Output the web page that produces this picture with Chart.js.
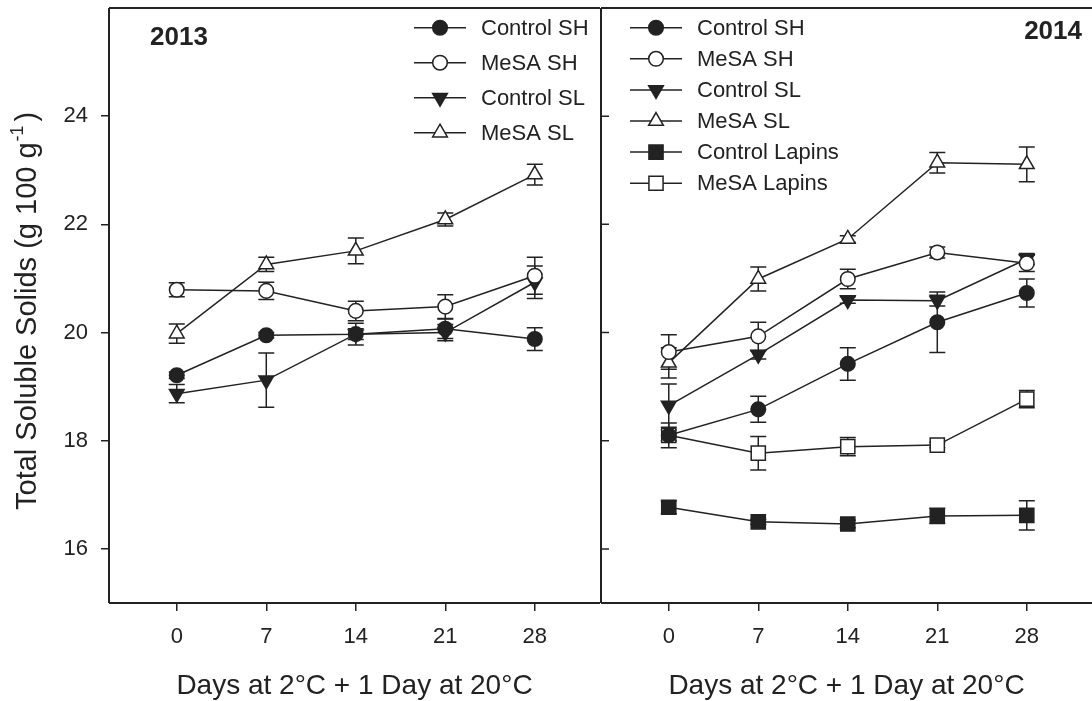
<!DOCTYPE html>
<html>
<head>
<meta charset="utf-8">
<script src="https://cdn.jsdelivr.net/npm/chart.js@4.4.1/dist/chart.umd.min.js"></script>
<style>
  body { margin: 0; background: #fff; overflow: hidden; }
  #wrap { position: relative; width: 1092px; height: 701px; }
  #left-box { position: absolute; left: 0; top: 0; width: 600px; height: 701px; }
  #right-box { position: absolute; left: 600px; top: 0; width: 492px; height: 701px; }
</style>
</head>
<body>
<div id="wrap">
  <div id="left-box"><canvas id="chart2013" width="600" height="701"></canvas></div>
  <div id="right-box"><canvas id="chart2014" width="492" height="701"></canvas></div>
</div>
<script>
const FONT = "'Liberation Sans', Arial, sans-serif";
const INK = '#222';

// axes
const days = [0, 7, 14, 21, 28];
const xTicks = [0, 7, 14, 21, 28];
const yTicks = [16, 18, 20, 22, 24];

// 2013 season (mean, +/- error)
const ctrlSH2013 = [19.21, 19.95, 19.97, 20.07, 19.88];
const ctrlSH2013Err = [0.06, 0.05, 0.2, 0.18, 0.21];
const mesaSH2013 = [20.79, 20.77, 20.40, 20.48, 21.05];
const mesaSH2013Err = [0.13, 0.16, 0.18, 0.22, 0.34];
const ctrlSL2013 = [18.87, 19.12, 19.97, 20.0, 20.93];
const ctrlSL2013Err = [0.17, 0.5, 0.1, 0.15, 0.3];
const mesaSL2013 = [19.98, 21.26, 21.51, 22.09, 22.92];
const mesaSL2013Err = [0.18, 0.13, 0.24, 0.12, 0.19];

// 2014 season
const ctrlSH2014 = [18.1, 18.58, 19.42, 20.19, 20.73];
const ctrlSH2014Err = [0.1, 0.24, 0.3, 0.56, 0.26];
const mesaSH2014 = [19.64, 19.93, 20.99, 21.48, 21.28];
const mesaSH2014Err = [0.32, 0.26, 0.18, 0.1, 0.15];
const ctrlSL2014 = [18.65, 19.59, 20.60, 20.59, 21.36];
const ctrlSL2014Err = [0.4, 0.08, 0.06, 0.1, 0.1];
const mesaSL2014 = [19.44, 20.99, 21.73, 23.14, 23.11];
const mesaSL2014Err = [0.28, 0.22, 0.06, 0.19, 0.32];
const ctrlLap2014 = [16.77, 16.50, 16.46, 16.61, 16.62];
const ctrlLap2014Err = [0.12, 0.05, 0.07, 0.14, 0.27];
const mesaLap2014 = [18.1, 17.77, 17.89, 17.92, 18.77];
const mesaLap2014Err = [0.23, 0.31, 0.17, 0.05, 0.16];

const MARKERS = {
    circle: { pointStyle: 'circle', radius: 7.3, rotation: 0 },
    up: { pointStyle: 'triangle', radius: 8.5, rotation: 0 },
    down: { pointStyle: 'triangle', radius: 8.5, rotation: 180 },
    square: { pointStyle: 'rect', radius: 10, rotation: 0 }
};

function series(label, values, errors, marker, filled) {
    const m = MARKERS[marker];
    return {
        label: label,
        data: days.map((d, i) => ({ x: d, y: values[i] })),
        errors: errors,
        borderColor: INK,
        borderWidth: 1.5,
        backgroundColor: filled ? INK : '#fff',
        pointStyle: m.pointStyle,
        pointRadius: m.radius,
        pointRotation: m.rotation,
        pointBorderWidth: 1.5,
        pointBorderColor: INK,
        pointBackgroundColor: filled ? INK : '#fff',
        tension: 0,
        fill: false
    };
}

// error bars with caps, behind the markers
const errorBars = {
    id: 'errorBars',
    beforeDatasetsDraw(chart) {
        const ctx = chart.ctx;
        const xs = chart.scales.x, ys = chart.scales.y;
        ctx.save();
        ctx.strokeStyle = INK;
        ctx.lineWidth = 1.5;
        chart.data.datasets.forEach(ds => {
            ds.data.forEach((p, i) => {
                const e = ds.errors[i];
                const px = xs.getPixelForValue(p.x);
                const top = ys.getPixelForValue(p.y + e);
                const bot = ys.getPixelForValue(p.y - e);
                ctx.beginPath();
                ctx.moveTo(px, top); ctx.lineTo(px, bot);
                ctx.moveTo(px - 8, top); ctx.lineTo(px + 8, top);
                ctx.moveTo(px - 8, bot); ctx.lineTo(px + 8, bot);
                ctx.stroke();
            });
        });
        ctx.restore();
    }
};

// box around the plot area, plus inward ticks on the right panel
const frame = {
    id: 'frame',
    beforeDatasetsDraw(chart, args, opts) {
        const ctx = chart.ctx;
        const a = chart.chartArea;
        ctx.save();
        ctx.strokeStyle = INK;
        ctx.lineWidth = 2;
        ctx.beginPath();
        ctx.moveTo(a.left, a.top); ctx.lineTo(a.right, a.top);
        ctx.moveTo(a.left, a.bottom); ctx.lineTo(a.right, a.bottom);
        ctx.moveTo(a.left, a.top); ctx.lineTo(a.left, a.bottom);
        if (opts.right) { ctx.moveTo(a.right, a.top); ctx.lineTo(a.right, a.bottom); }
        ctx.stroke();
        if (opts.innerTicks) {
            ctx.lineWidth = 1.5;
            ctx.beginPath();
            yTicks.forEach(v => {
                const py = chart.scales.y.getPixelForValue(v);
                ctx.moveTo(a.left, py); ctx.lineTo(a.left + 8, py);
            });
            ctx.stroke();
        }
        ctx.restore();
    }
};

// legend, year label and the y title
const decorations = {
    id: 'decorations',
    afterDraw(chart, args, opts) {
        const ctx = chart.ctx;
        ctx.save();
        ctx.fillStyle = INK;
        ctx.strokeStyle = INK;
        ctx.textBaseline = 'middle';
        chart.data.datasets.forEach((ds, i) => {
            const y = opts.legendY + i * opts.legendGap;
            const x = opts.legendX;
            ctx.lineWidth = 1.5;
            ctx.beginPath();
            ctx.moveTo(x, y); ctx.lineTo(x + 52, y);
            ctx.stroke();
            ctx.fillStyle = ds.pointBackgroundColor;
            Chart.helpers.drawPoint(ctx, {
                pointStyle: ds.pointStyle, rotation: ds.pointRotation,
                radius: ds.pointRadius, borderWidth: 1.5
            }, x + 26, y);
            ctx.fillStyle = INK;
            ctx.font = '22px ' + FONT;
            ctx.textAlign = 'left';
            ctx.fillText(ds.label, x + 67, y + 1);
        });
        ctx.font = 'bold 26px ' + FONT;
        ctx.textAlign = opts.yearAlign;
        ctx.fillText(opts.year, opts.yearX, opts.yearY);
        if (opts.yTitle) {
            ctx.translate(36, 510);
            ctx.rotate(-Math.PI / 2);
            ctx.textAlign = 'left';
            ctx.textBaseline = 'alphabetic';
            const main = 'Total Soluble Solids (g 100 g';
            ctx.font = '29px ' + FONT;
            ctx.fillText(main, 0, 0);
            const w1 = ctx.measureText(main).width;
            ctx.font = '18px ' + FONT;
            ctx.fillText('-1', w1 + 1, -13);
            const w2 = ctx.measureText('-1').width;
            ctx.font = '29px ' + FONT;
            ctx.fillText(')', w1 + w2 + 5, 0);
        }
        ctx.restore();
    }
};

function xScale() {
    return {
        type: 'linear',
        min: -5.3,
        max: 33.1,
        afterBuildTicks: s => { s.ticks = xTicks.map(v => ({ value: v })); },
        afterFit: s => { s.height = 98; s.paddingLeft = 0; s.paddingRight = 0; },
        grid: { drawOnChartArea: false, drawTicks: true, tickLength: 8, color: INK, lineWidth: 1.5 },
        border: { display: false },
        ticks: { color: INK, font: { family: FONT, size: 22 }, padding: 13, maxRotation: 0 },
        title: {
            display: true,
            text: 'Days at 2°C + 1 Day at 20°C',
            color: INK,
            font: { family: FONT, size: 28 },
            padding: { top: 0, bottom: -2 }
        }
    };
}

function yScale(showLabels) {
    return {
        type: 'linear',
        min: 15,
        max: 26,
        afterBuildTicks: s => { s.ticks = yTicks.map(v => ({ value: v })); },
        afterFit: s => { s.width = showLabels ? 109 : 1; s.paddingTop = 0; s.paddingBottom = 0; },
        grid: { display: showLabels, drawOnChartArea: false, drawTicks: true, tickLength: 8, color: INK, lineWidth: 1.5 },
        border: { display: false },
        ticks: { display: showLabels, color: INK, font: { family: FONT, size: 22 }, padding: 13 }
    };
}

function makeChart(id, datasets, showLabels, deco, frameOpts) {
    const ctx = document.getElementById(id).getContext('2d');
    return new Chart(ctx, {
        type: 'line',
        data: { datasets: datasets },
        options: {
            responsive: false,
            animation: false,
            devicePixelRatio: 1,
            layout: { autoPadding: false, padding: { top: 8, left: 0, right: 0, bottom: 0 } },
            scales: { x: xScale(), y: yScale(showLabels) },
            plugins: {
                legend: { display: false },
                tooltip: { enabled: false },
                frame: frameOpts,
                decorations: deco
            }
        },
        plugins: [errorBars, frame, decorations]
    });
}

makeChart('chart2013', [
    series('Control SH', ctrlSH2013, ctrlSH2013Err, 'circle', true),
    series('MeSA SH', mesaSH2013, mesaSH2013Err, 'circle', false),
    series('Control SL', ctrlSL2013, ctrlSL2013Err, 'down', true),
    series('MeSA SL', mesaSL2013, mesaSL2013Err, 'up', false)
], true, {
    legendX: 414, legendY: 27.7, legendGap: 35,
    year: '2013', yearX: 150, yearY: 38, yearAlign: 'left', yTitle: true
}, { right: false, innerTicks: false });

makeChart('chart2014', [
    series('Control SH', ctrlSH2014, ctrlSH2014Err, 'circle', true),
    series('MeSA SH', mesaSH2014, mesaSH2014Err, 'circle', false),
    series('Control SL', ctrlSL2014, ctrlSL2014Err, 'down', true),
    series('MeSA SL', mesaSL2014, mesaSL2014Err, 'up', false),
    series('Control Lapins', ctrlLap2014, ctrlLap2014Err, 'square', true),
    series('MeSA Lapins', mesaLap2014, mesaLap2014Err, 'square', false)
], false, {
    legendX: 30, legendY: 27.7, legendGap: 31.1,
    year: '2014', yearX: 482, yearY: 32, yearAlign: 'right', yTitle: false
}, { right: false, innerTicks: true });
</script>
</body>
</html>
